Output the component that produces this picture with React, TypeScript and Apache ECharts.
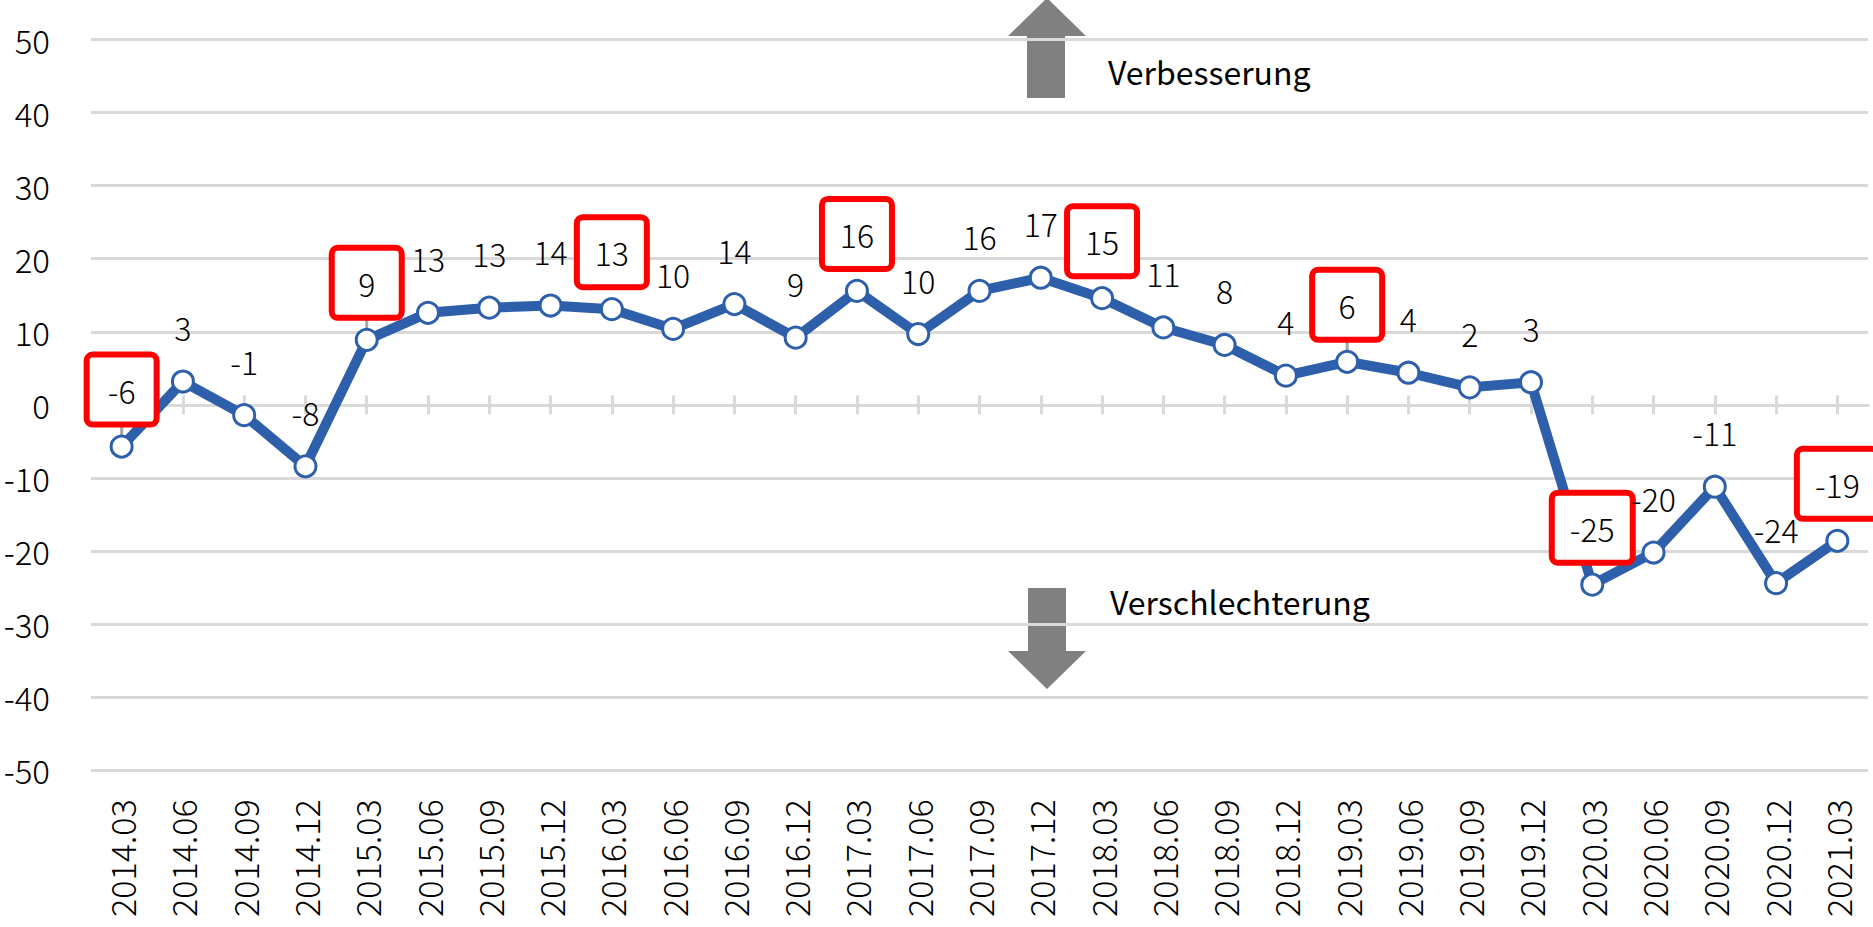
import React, { useEffect, useRef } from "react";
import * as echarts from "echarts";

const categories = [
  "2014.03", "2014.06", "2014.09", "2014.12",
  "2015.03", "2015.06", "2015.09", "2015.12",
  "2016.03", "2016.06", "2016.09", "2016.12",
  "2017.03", "2017.06", "2017.09", "2017.12",
  "2018.03", "2018.06", "2018.09", "2018.12",
  "2019.03", "2019.06", "2019.09", "2019.12",
  "2020.03", "2020.06", "2020.09", "2020.12",
  "2021.03",
];

const values = [
  -5.7, 3.2, -1.4, -8.4,
  8.9, 12.6, 13.3, 13.6,
  13.1, 10.4, 13.8, 9.2,
  15.6, 9.7, 15.6, 17.4,
  14.6, 10.6, 8.2, 4.0,
  5.9, 4.4, 2.4, 3.1,
  -24.6, -20.2, -11.2, -24.4,
  -18.6,
];

// indices whose labels are framed in red
const boxedIdx = [0, 4, 8, 12, 16, 20, 24, 28];
// indices whose framed label has a leader line down to the point
const leaderIdx = [0, 4, 20];

const yMin = -50;
const yMax = 50;
const yStep = 10;

const upText = "Verbesserung";
const downText = "Verschlechterung";

const FONT = "'Noto Sans CJK JP', 'Noto Sans', sans-serif";
const LIGHT_FONT = "'Noto Sans CJK JP Light', 'Noto Sans CJK JP', 'Noto Sans', sans-serif";
const BLUE = "#2d5fab";
const GRID = "#d9d9d9";

export default function App() {
  const ref = useRef<HTMLDivElement>(null);

  useEffect(() => {
    if (!ref.current) return;
    const chart = echarts.init(ref.current, null, { renderer: "svg" });

    const seriesData = values.map((v, i) => {
      if (!boxedIdx.includes(i)) return v;
      const txt = String(Math.round(v));
      return {
        value: v,
        label: {
          borderColor: "#ff0000",
          borderWidth: 6,
          borderRadius: 3,
          backgroundColor: "#ffffff",
          padding: [15, 10],
          width: txt.length >= 3 ? 55 : 44,
          align: "center",
          offset: [0, -57],
        },
      };
    });

    const leaderData = leaderIdx.map((i) => [i, values[i]]);

    const zeroAxis = (pos: string) => ({
      type: "category",
      data: categories,
      position: pos,
      boundaryGap: true,
      axisLine: {
        show: true,
        onZero: true,
        onZeroAxisIndex: 0,
        lineStyle: { color: GRID, width: 3 },
      },
      axisTick: {
        show: true,
        alignWithLabel: true,
        inside: false,
        length: 9.5,
        lineStyle: { color: GRID, width: 3 },
      },
      axisLabel: { show: false },
      splitLine: { show: false },
    });

    const option: any = {
      animation: false,
      backgroundColor: "#ffffff",
      grid: { left: 91, right: 5, top: 39.5, bottom: 156.7, containLabel: false },
      xAxis: [
        {
          type: "category",
          data: categories,
          position: "bottom",
          boundaryGap: true,
          axisLine: { show: false, onZero: false },
          axisTick: { show: false },
          splitLine: { show: false },
          axisLabel: {
            rotate: 90,
            margin: 29,
            fontSize: 34,
            fontFamily: LIGHT_FONT,
            fontWeight: 300,
            color: "#000000",
            interval: 0,
          },
        },
        zeroAxis("bottom"),
        zeroAxis("top"),
      ],
      yAxis: {
        type: "value",
        min: yMin,
        max: yMax,
        interval: yStep,
        axisLine: { show: false },
        axisTick: { show: false },
        splitLine: { show: true, lineStyle: { color: GRID, width: 3 } },
        axisLabel: {
          margin: 41,
          fontSize: 33,
          fontFamily: LIGHT_FONT,
          fontWeight: 300,
          color: "#000000",
        },
      },
      series: [
        {
          type: "custom",
          xAxisIndex: 0,
          z: 1,
          data: leaderData,
          renderItem: (_params: any, api: any) => {
            const p = api.coord([api.value(0), api.value(1)]);
            return {
              type: "line",
              shape: { x1: p[0], y1: p[1] - 23, x2: p[0], y2: p[1] },
              style: { stroke: "#a6a6a6", lineWidth: 3 },
            };
          },
        },
        {
          type: "line",
          xAxisIndex: 0,
          z: 3,
          data: seriesData,
          symbol: "circle",
          symbolSize: 21,
          lineStyle: { color: BLUE, width: 10 },
          itemStyle: { color: "#ffffff", borderColor: BLUE, borderWidth: 3 },
          label: {
            show: true,
            position: "inside",
            offset: [0, -54.5],
            formatter: (p: any) => String(Math.round(p.value)),
            fontSize: 32,
            lineHeight: 34,
            fontFamily: LIGHT_FONT,
            fontWeight: 300,
            color: "#000000",
          },
          emphasis: { disabled: true },
        },
      ],
      graphic: [
        {
          type: "polygon",
          shape: {
            points: [
              [1047, -2], [1086, 36], [1065, 36], [1065, 98],
              [1027, 98], [1027, 36], [1008, 36],
            ],
          },
          style: { fill: "#808080" },
        },
        {
          type: "polygon",
          shape: {
            points: [
              [1028, 588], [1066, 588], [1066, 651], [1086, 651],
              [1047, 689], [1008, 651], [1028, 651],
            ],
          },
          style: { fill: "#808080" },
        },
        {
          type: "text",
          x: 1108,
          y: 71,
          style: {
            text: upText,
            fontSize: 32,
            fontFamily: FONT,
            fill: "#000000",
            verticalAlign: "middle",
          },
        },
        {
          type: "text",
          x: 1110,
          y: 601,
          style: {
            text: downText,
            fontSize: 32,
            fontFamily: FONT,
            fill: "#000000",
            verticalAlign: "middle",
          },
        },
      ],
    };

    chart.setOption(option);
    return () => chart.dispose();
  }, []);

  return (
    <div
      ref={ref}
      style={{ position: "fixed", left: 0, top: 0, width: 1873, height: 927 }}
    />
  );
}
